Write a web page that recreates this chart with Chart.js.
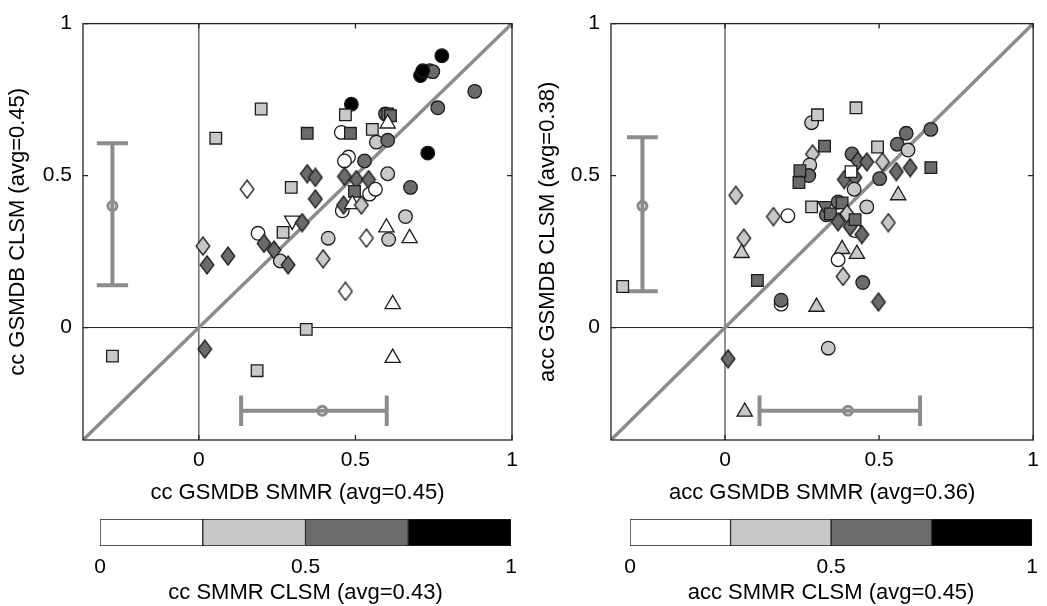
<!DOCTYPE html>
<html>
<head>
<meta charset="utf-8">
<script src="https://cdn.jsdelivr.net/npm/chart.js@4.4.1/dist/chart.umd.min.js"></script>
<style>
  html, body { margin: 0; padding: 0; background: #fff; }
  body { width: 1047px; height: 606px; position: relative; overflow: hidden; }
  canvas { position: absolute; }
</style>
</head>
<body>
<canvas id="ccPlot" width="530" height="510" style="left:0;top:0"></canvas>
<canvas id="accPlot" width="519" height="510" style="left:528px;top:0"></canvas>
<canvas id="ccBar" width="530" height="96" style="left:0;top:510px"></canvas>
<canvas id="accBar" width="519" height="96" style="left:528px;top:510px"></canvas>
<script>
// 軸
const AXIS_MIN = -0.37;
const AXIS_MAX = 1;
const TICKS = [0, 0.5, 1];

// 色の区分 (SMMR-CLSM の相関: 0-0.25, 0.25-0.5, 0.5-0.75, 0.75-1)
const CBAR_EDGES = [0, 0.25, 0.5, 0.75, 1];

// 左: cc  (shade = 色の区分, shape: o=丸, s=四角, d=菱形, ^=三角, v=逆三角)
const ccX = [0.776, 0.737, 0.747, 0.708, 0.715, 0.881, 0.763, 0.487, 0.468, 0.596,
             0.603, 0.612, 0.603, 0.346, 0.455, 0.484, 0.554, 0.567, 0.603, 0.731,
             0.478, 0.465, 0.529, 0.199, 0.054, 0.603, 0.346, 0.372, 0.465, 0.503,
             0.542, 0.676, 0.545, 0.564, 0.497, 0.154, 0.295, 0.372, 0.458, 0.462,
             0.490, 0.519, 0.660, 0.298, 0.330, 0.189, 0.269, 0.208, 0.240, 0.260,
             0.285, 0.093, 0.013, 0.026, 0.413, 0.397, 0.535, 0.599, 0.606, 0.673,
             0.468, 0.619, 0.343, 0.619, -0.276, 0.019, 0.186];
const ccY = [0.894, 0.845, 0.842, 0.829, 0.845, 0.777, 0.723, 0.735, 0.700, 0.703,
             0.703, 0.697, 0.671, 0.639, 0.642, 0.639, 0.652, 0.610, 0.616, 0.574,
             0.561, 0.548, 0.548, 0.719, 0.623, 0.506, 0.506, 0.494, 0.497, 0.487,
             0.487, 0.461, 0.439, 0.455, 0.448, 0.455, 0.461, 0.423, 0.384, 0.403,
             0.406, 0.403, 0.365, 0.352, 0.345, 0.310, 0.313, 0.277, 0.255, 0.219,
             0.206, 0.235, 0.268, 0.206, 0.294, 0.226, 0.294, 0.329, 0.290, 0.294,
             0.119, 0.077, -0.006, -0.100, -0.094, -0.071, -0.142];
const ccShade = [3, 2, 2, 3, 3, 2, 2, 3, 1, 2,
                 2, 2, 0, 2, 0, 2, 1, 1, 2, 3,
                 0, 0, 2, 1, 1, 1, 2, 2, 2, 2,
                 2, 2, 0, 0, 2, 0, 1, 2, 0, 2,
                 0, 1, 1, 0, 2, 0, 1, 2, 2, 1,
                 2, 2, 1, 2, 1, 1, 0, 0, 1, 0,
                 0, 0, 1, 0, 1, 2, 1];
const ccShape = ["o","o","o","o","o","o","o","o","s","o",
                 "s","s","^","s","o","s","s","o","o","o",
                 "o","o","o","s","s","o","d","d","d","d",
                 "d","o","o","o","s","d","s","d","o","d",
                 "^","d","o","v","d","o","s","d","d","o",
                 "d","d","d","d","o","d","d","^","o","^",
                 "d","^","s","^","s","d","s"];
// 誤差棒 [下限, 中央, 上限]
const ccSpreadY = [0.139, 0.40, 0.606];
const ccSpreadX = [0.135, 0.394, 0.600];

// 右: acc
const accX = [0.281, 0.300, 0.425, 0.323, 0.284, 0.275, 0.272, 0.243, 0.240, 0.035,
              0.157, 0.204, 0.281, 0.412, 0.431, 0.460, 0.495, 0.511, 0.588, 0.559,
              0.594, 0.668, 0.556, 0.601, 0.668, 0.387, 0.422, 0.409, 0.419, 0.502,
              0.562, 0.329, 0.326, 0.367, 0.380, 0.342, 0.396, 0.460, 0.367, 0.422,
              0.406, 0.422, 0.444, 0.530, 0.380, 0.428, 0.367, 0.383, 0.447, 0.297,
              0.498, 0.182, 0.182, 0.105, 0.061, 0.054, -0.332, 0.010, 0.064, 0.335];
const accY = [0.674, 0.700, 0.723, 0.597, 0.571, 0.535, 0.500, 0.516, 0.477, 0.435,
              0.365, 0.368, 0.397, 0.571, 0.548, 0.545, 0.594, 0.545, 0.639, 0.603,
              0.584, 0.652, 0.513, 0.526, 0.526, 0.487, 0.494, 0.513, 0.455, 0.490,
              0.435, 0.371, 0.400, 0.413, 0.410, 0.374, 0.374, 0.397, 0.348, 0.319,
              0.332, 0.355, 0.306, 0.345, 0.258, 0.242, 0.223, 0.168, 0.148, 0.068,
              0.084, 0.077, 0.090, 0.155, 0.294, 0.245, 0.135, -0.103, -0.277, -0.068];
const accShade = [1, 1, 1, 2, 1, 1, 2, 2, 2, 1,
                  1, 0, 1, 2, 2, 2, 1, 1, 2, 2,
                  1, 2, 2, 2, 2, 2, 2, 0, 1, 2,
                  1, 2, 2, 2, 2, 2, 1, 1, 2, 0,
                  2, 2, 2, 1, 1, 1, 0, 1, 2, 1,
                  2, 0, 2, 2, 1, 1, 1, 2, 1, 1];
const accShape = ["o","s","s","s","d","o","o","s","s","d",
                  "d","o","s","o","d","d","s","d","o","o",
                  "o","o","d","d","s","d","d","s","o","o",
                  "^","o","v","o","s","s","d","o","d","o",
                  "d","s","d","d","^","^","o","d","o","^",
                  "d","o","o","s","d","^","s","d","^","o"];
const accSpreadY = [0.119, 0.40, 0.626];
const accSpreadX = [0.112, 0.399, 0.633];

// 見た目
const FONT = "'Liberation Sans', Arial, Helvetica, sans-serif";
const SHADES = ["#ffffff", "#c8c8c8", "#6b6b6b", "#000000"];
const GREY = "#8c8c8c";
const EDGE = "#1c1c1c";
const SPREAD_POS = -0.274; // 誤差棒の位置 (軸の値)
const CAP = 0.05;

// 菱形は縦長 (MATLAB 風) なので画像で作る
function diamondImage(fill) {
  const c = document.createElement("canvas");
  c.width = 16; c.height = 20;
  const g = c.getContext("2d");
  g.beginPath();
  g.moveTo(8, 1); g.lineTo(14.8, 10); g.lineTo(8, 19); g.lineTo(1.2, 10);
  g.closePath();
  g.fillStyle = fill; g.fill();
  g.lineWidth = 1.3; g.strokeStyle = EDGE; g.stroke();
  return c;
}
const DIAMONDS = SHADES.map(diamondImage);

const SHAPES = {
  "o": { style: () => "circle", rot: 0, r: 6.8 },
  "s": { style: () => "rect", rot: 0, r: 8.2 },
  "d": { style: k => DIAMONDS[k], rot: 0, r: 8.2 },
  "^": { style: () => "triangle", rot: 0, r: 8.8 },
  "v": { style: () => "triangle", rot: 180, r: 8.8 }
};

Chart.defaults.font.family = FONT;
Chart.defaults.color = "#000";

const framePlugin = {
  id: "frame",
  afterDatasetsDraw(chart) {
    const { ctx, chartArea: a, scales: { x, y } } = chart;
    ctx.save();
    ctx.strokeStyle = "#222";
    ctx.lineWidth = 1.3;
    ctx.strokeRect(a.left, a.top, a.width, a.height);
    ctx.beginPath();
    TICKS.forEach(v => {
      const px = x.getPixelForValue(v), py = y.getPixelForValue(v);
      ctx.moveTo(px, a.bottom); ctx.lineTo(px, a.bottom - 5);
      ctx.moveTo(px, a.top); ctx.lineTo(px, a.top + 5);
      ctx.moveTo(a.left, py); ctx.lineTo(a.left + 5, py);
      ctx.moveTo(a.right, py); ctx.lineTo(a.right - 5, py);
    });
    ctx.stroke();
    ctx.restore();
  }
};

function lineSet(points, color, width, order) {
  return {
    type: "line", data: points, borderColor: color, borderWidth: width,
    pointRadius: 0, pointHoverRadius: 0, fill: false, tension: 0, order
  };
}

function markerSet(xs, ys, shades, shapes) {
  return {
    type: "scatter",
    data: xs.map((x, i) => ({ x, y: ys[i] })),
    pointStyle: shapes.map((s, i) => SHAPES[s].style(shades[i])),
    pointRotation: shapes.map(s => SHAPES[s].rot),
    pointRadius: shapes.map(s => SHAPES[s].r),
    pointHoverRadius: shapes.map(s => SHAPES[s].r),
    pointBackgroundColor: shades.map(k => SHADES[k]),
    pointBorderColor: EDGE,
    pointBorderWidth: 1.3,
    showLine: false,
    order: 0
  };
}

function spreadSets(spreadX, spreadY, xPos) {
  const sets = [];
  // 縦 (CLSM 側のばらつき)
  sets.push(lineSet([{ x: xPos, y: spreadY[0] }, { x: xPos, y: spreadY[2] }], GREY, 4, 1));
  sets.push(lineSet([{ x: xPos - CAP, y: spreadY[0] }, { x: xPos + CAP, y: spreadY[0] }], GREY, 4, 1));
  sets.push(lineSet([{ x: xPos - CAP, y: spreadY[2] }, { x: xPos + CAP, y: spreadY[2] }], GREY, 4, 1));
  // 横 (SMMR 側のばらつき)
  sets.push(lineSet([{ x: spreadX[0], y: SPREAD_POS }, { x: spreadX[2], y: SPREAD_POS }], GREY, 4, 1));
  sets.push(lineSet([{ x: spreadX[0], y: SPREAD_POS - CAP }, { x: spreadX[0], y: SPREAD_POS + CAP }], GREY, 4, 1));
  sets.push(lineSet([{ x: spreadX[2], y: SPREAD_POS - CAP }, { x: spreadX[2], y: SPREAD_POS + CAP }], GREY, 4, 1));
  sets.push({
    type: "scatter",
    data: [{ x: xPos, y: spreadY[1] }, { x: spreadX[1], y: SPREAD_POS }],
    pointStyle: "circle", pointRadius: 4.5, pointHoverRadius: 4.5,
    pointBackgroundColor: "rgba(0,0,0,0)", pointBorderColor: GREY, pointBorderWidth: 3,
    order: 1
  });
  return sets;
}

function makePlot(id, xs, ys, shades, shapes, spreadX, spreadY, xPos, xTitle, yTitle, opts) {
  const datasets = [
    markerSet(xs, ys, shades, shapes),
    lineSet([{ x: AXIS_MIN, y: AXIS_MIN }, { x: AXIS_MAX, y: AXIS_MAX }], GREY, 3.5, 2),
    lineSet([{ x: AXIS_MIN, y: 0 }, { x: AXIS_MAX, y: 0 }], "#222", 1, 3),
    lineSet([{ x: 0, y: AXIS_MIN }, { x: 0, y: AXIS_MAX }], "#222", 1, 3),
    ...spreadSets(spreadX, spreadY, xPos)
  ];
  return new Chart(document.getElementById(id), {
    type: "scatter",
    data: { datasets },
    options: {
      responsive: false,
      animation: false,
      devicePixelRatio: 1,
      events: [],
      layout: { padding: { top: 15, right: opts.right, left: 0, bottom: 0 } },
      plugins: { legend: { display: false }, tooltip: { enabled: false } },
      scales: {
        x: {
          type: "linear", min: AXIS_MIN, max: AXIS_MAX,
          afterBuildTicks: s => { s.ticks = TICKS.map(v => ({ value: v })); },
          afterFit: s => { s.height = 70; },
          grid: { display: false, drawTicks: false },
          border: { display: false },
          ticks: { font: { size: 21 }, color: "#000", padding: 8, maxRotation: 0, autoSkip: false,
                   callback: v => String(v) },
          title: { display: true, text: xTitle, font: { size: 22 }, color: "#000",
                   padding: { top: 0, bottom: 4 } }
        },
        y: {
          type: "linear", min: AXIS_MIN, max: AXIS_MAX,
          afterBuildTicks: s => { s.ticks = TICKS.map(v => ({ value: v })); },
          afterFit: s => { s.width = 83; },
          grid: { display: false, drawTicks: false },
          border: { display: false },
          ticks: { font: { size: 21 }, color: "#000", padding: 11, autoSkip: false,
                   callback: v => String(v) },
          title: { display: true, text: yTitle, font: { size: 22 }, color: "#000",
                   padding: { top: opts.titlePad, bottom: 0 } }
        }
      }
    },
    plugins: [framePlugin]
  });
}

function makeColorbar(id, title, padLeft, padRight) {
  const datasets = SHADES.map((c, i) => ({
    data: [[CBAR_EDGES[i], CBAR_EDGES[i + 1]]],
    backgroundColor: c,
    borderColor: "#222",
    borderWidth: 1,
    borderSkipped: false,
    barPercentage: 1,
    categoryPercentage: 1,
    grouped: false
  }));
  return new Chart(document.getElementById(id), {
    type: "bar",
    data: { labels: [""], datasets },
    options: {
      indexAxis: "y",
      responsive: false,
      animation: false,
      devicePixelRatio: 1,
      events: [],
      layout: { padding: { top: 9, left: padLeft, right: padRight, bottom: 0 } },
      plugins: { legend: { display: false }, tooltip: { enabled: false } },
      scales: {
        x: {
          type: "linear", min: 0, max: 1,
          afterBuildTicks: s => { s.ticks = TICKS.map(v => ({ value: v })); },
          afterFit: s => { s.height = 60; },
          grid: { display: false, drawTicks: false },
          border: { display: false },
          ticks: { font: { size: 21 }, color: "#000", padding: 9, maxRotation: 0, autoSkip: false,
                   callback: v => String(v) },
          title: { display: true, text: title, font: { size: 22 }, color: "#000",
                   padding: { top: 0, bottom: 0 } }
        },
        y: { display: false }
      }
    }
  });
}

makePlot("ccPlot", ccX, ccY, ccShade, ccShape, ccSpreadX, ccSpreadY, -0.276,
  "cc GSMDB SMMR (avg=0.45)", "cc GSMDB CLSM (avg=0.45)", { right: 18, titlePad: 5 });
makePlot("accPlot", accX, accY, accShade, accShape, accSpreadX, accSpreadY, -0.268,
  "acc GSMDB SMMR (avg=0.36)", "acc GSMDB CLSM (avg=0.38)", { right: 7, titlePad: 7 });
makeColorbar("ccBar", "cc SMMR CLSM (avg=0.43)", 100, 19);
makeColorbar("accBar", "acc SMMR CLSM (avg=0.45)", 102, 8);
</script>
</body>
</html>
